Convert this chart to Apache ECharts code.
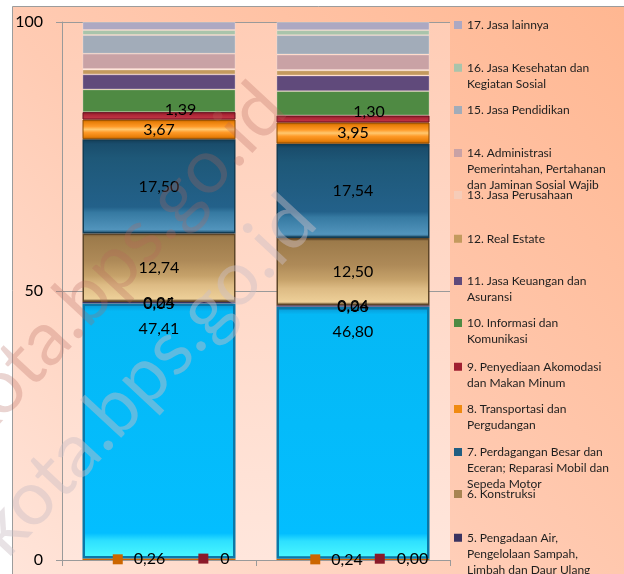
<!DOCTYPE html>
<html><head><meta charset="utf-8">
<script src="https://cdn.jsdelivr.net/npm/echarts@6/dist/echarts.min.js"></script>
<style>html,body{margin:0;padding:0;background:#fff}#c{width:624px;height:574px}</style>
</head><body><div id="c"></div>
<script>
// ---------- DATA ----------
const categories = ['2022', '2023'];
const seriesNames = [
  '1. Pertanian, Kehutanan, dan Perikanan',
  '2. Pertambangan dan Penggalian',
  '3. Industri Pengolahan',
  '4. Pengadaan Listrik dan Gas',
  '5. Pengadaan Air, Pengelolaan Sampah, Limbah dan Daur Ulang',
  '6. Konstruksi',
  '7. Perdagangan Besar dan Eceran; Reparasi Mobil dan Sepeda Motor',
  '8. Transportasi dan Pergudangan',
  '9. Penyediaan Akomodasi dan Makan Minum',
  '10. Informasi dan Komunikasi',
  '11. Jasa Keuangan dan Asuransi',
  '12. Real Estate',
  '13. Jasa Perusahaan',
  '14. Administrasi Pemerintahan, Pertahanan dan Jaminan Sosial Wajib',
  '15. Jasa Pendidikan',
  '16. Jasa Kesehatan dan Kegiatan Sosial',
  '17. Jasa lainnya'
];
const legendLabels = [
  '1. Pertanian, Kehutanan, dan\nPerikanan',
  '2. Pertambangan dan\nPenggalian',
  '3. Industri Pengolahan',
  '4. Pengadaan Listrik dan Gas',
  '5. Pengadaan Air,\nPengelolaan Sampah,\nLimbah dan Daur Ulang',
  '6. Konstruksi',
  '7. Perdagangan Besar dan\nEceran; Reparasi Mobil dan\nSepeda Motor',
  '8. Transportasi dan\nPergudangan',
  '9. Penyediaan Akomodasi\ndan Makan Minum',
  '10. Informasi dan\nKomunikasi',
  '11. Jasa Keuangan dan\nAsuransi',
  '12. Real Estate',
  '13. Jasa Perusahaan',
  '14. Administrasi\nPemerintahan, Pertahanan\ndan Jaminan Sosial Wajib',
  '15. Jasa Pendidikan',
  '16. Jasa Kesehatan dan\nKegiatan Sosial',
  '17. Jasa lainnya'
];
const v01 = [0.26, 0.24];
const v02 = [0, 0.00];
const v03 = [47.41, 46.80];
const v04 = [0.05, 0.06];
const v05 = [0.24, 0.24];
const v06 = [12.74, 12.50];
const v07 = [17.50, 17.54];
const v08 = [3.67, 3.95];
const v09 = [1.39, 1.30];
const v10 = [4.21, 4.52];
const v11 = [2.79, 2.91];
const v12 = [0.90, 0.95];
const v13 = [0.10, 0.10];
const v14 = [2.85, 2.85];
const v15 = [3.47, 3.59];
const v16 = [0.93, 0.93];
const v17 = [1.49, 1.52];
const v02Labels = ['0', '0,00'];
const yTicks = [0, 50, 100];
const seriesValues = [v01,v02,v03,v04,v05,v06,v07,v08,v09,v10,v11,v12,v13,v14,v15,v16,v17];

// ---------- STYLE ----------
const FONT = 'Lato, "Noto Sans", sans-serif';
const G = (stops) => new echarts.graphic.LinearGradient(0, 0, 0, 1, stops.map(s => ({offset: s[0], color: s[1]})));
const styles = [
  {color: '#CC6600'},
  {color: '#8B1A2A'},
  {color: G([[0,'#0A94D0'],[0.03,'#05B8F5'],[0.9,'#03BEFF'],[0.93,'#2EE0FF'],[0.99,'#48F6FF'],[1,'#0B6A92']]), borderColor: '#0A78A8', borderWidth: 2.5},
  {color: '#4F81BD'},
  {color: '#3A3360'},
  {color: G([[0,'#6E5230'],[0.05,'#9C7A4A'],[0.4,'#AE8A58'],[0.62,'#C6A26A'],[0.75,'#DDBB84'],[0.95,'#EDCF98'],[1,'#5E4628']]), borderColor: '#5E4628', borderWidth: 1.5},
  {color: G([[0,'#123C56'],[0.05,'#1A4D6C'],[0.2,'#1E5878'],[0.72,'#23618A'],[0.78,'#367AA2'],[0.96,'#5294BC'],[1,'#123C56']]), borderColor: '#123C54', borderWidth: 1.5},
  {color: G([[0,'#A85800'],[0.12,'#E87E08'],[0.35,'#FF9A28'],[0.5,'#FFC870'],[0.65,'#FF9A28'],[0.88,'#E87E08'],[1,'#A85800']]), borderColor: '#8A4A00', borderWidth: 1},
  {color: G([[0,'#7A1822'],[0.4,'#B02838'],[1,'#C83848']]), borderColor: '#6A1020', borderWidth: 1},
  {color: '#4F8A43'},
  {color: '#604A7B'},
  {color: '#C49A5E'},
  {color: '#F6CCB8'},
  {color: '#C9A2A5'},
  {color: '#A2ACB9'},
  {color: '#A9C4AB'},
  {color: '#ADA8C2'}
];
const legendColors = ['#CC6600','#8B1A2A','#00B8F0','#4F81BD','#3A3360','#A88452','#215E82','#F08A10','#A02030',
  '#4F8A43','#604A7B','#C49A5E','#F6CCB8','#C9A2A5','#A2ACB9','#A9C4AB','#ADA8C2'];
const fmt = v => v.toFixed(2).replace('.', ',');
const lblBase = {show: true, color: '#000', fontSize: 16, fontFamily: FONT};

function labelFor(i) {
  if (i === 0) {
    return Object.assign({}, lblBase, {position: 'inside',
      formatter: p => '{m|}{v|' + fmt(p.value) + '}',
      rich: {m: {width: 10, height: 10, backgroundColor: '#CC6600'}, v: {fontSize: 16, fontFamily: FONT, color: '#000', padding: [0,0,0,11]}}});
  }
  if (i === 1) {
    return Object.assign({}, lblBase, {position: 'inside',
      formatter: p => '{m|}{v|' + v02Labels[p.dataIndex] + '}',
      rich: {m: {width: 10, height: 10, backgroundColor: '#8B1A2A'}, v: {fontSize: 16, fontFamily: FONT, color: '#000', padding: [0,0,0,12]}}});
  }
  if (i === 2) return Object.assign({}, lblBase, {position: 'insideTop', distance: 17, formatter: p => fmt(p.value)});
  if (i >= 3 && i <= 8) return Object.assign({}, lblBase, {position: 'inside', formatter: p => fmt(p.value)});
  return {show: false};
}
const labelShifts = {
  0: [[-20, 0], [-16.5, 0]],
  1: [[55, 0], [48.5, 0]],
  8: [[21.5, -6], [16, -7]]
};

const series = seriesValues.map((vals, i) => {
  const s = {
    name: seriesNames[i],
    type: 'bar',
    stack: 'total',
    barWidth: 153,
    itemStyle: Object.assign({borderColor: 'rgba(255,255,255,0.35)', borderWidth: (i >= 9 ? 0.8 : 0)}, styles[i]),
    label: labelFor(i),
    emphasis: {disabled: true},
    data: vals
  };
  if (labelShifts[i]) {
    s.labelLayout = p => ({dx: labelShifts[i][p.dataIndex][0], dy: labelShifts[i][p.dataIndex][1]});
  }
  return s;
});

// legend: one block per visible entry (17 down to 5)
const legendCenters = [25, 67.7, 110, 153, 195, 238.7, 281, 323, 366.7, 409, 452, 494, 537.7];
const LH = 16;
const legends = legendCenters.map((c, k) => {
  const i = 16 - k;
  const n = legendLabels[i].split('\n').length;
  const H = 8 + (n - 1) * LH;
  return {
    orient: 'vertical', left: 454, top: c - 8, padding: 0, itemGap: 0,
    itemWidth: 8, itemHeight: H,
    icon: 'path://M0,0L8,0L8,8L0,8Z M0,' + H + 'L8,' + H,
    itemStyle: {color: legendColors[i], borderWidth: 0},
    selectedMode: false,
    data: [seriesNames[i]],
    formatter: () => legendLabels[i],
    textStyle: {fontSize: 12, lineHeight: LH, fontFamily: FONT, color: '#1E1E1E'}
  };
});

const chart = echarts.init(document.getElementById('c'), null, {renderer: 'canvas'});
chart.setOption({
  animation: false,
  backgroundColor: '#ffffff',
  textStyle: {fontFamily: FONT},
  graphic: [
    {type: 'rect', z: -10, silent: true, shape: {x: 12.5, y: 6.5, width: 640, height: 600},
     style: {fill: new echarts.graphic.LinearGradient(1, 0, 0, 1, [{offset: 0, color: '#FFB690'}, {offset: 0.55, color: '#FFCBB3'}, {offset: 1, color: '#FFE6DC'}]), stroke: '#9C9C9C', lineWidth: 1}},
    {type: 'text', z: 100, silent: true, x: 302, y: 208, rotation: 47 * Math.PI / 180,
     style: {text: 'kota.bps.go.id', fontSize: 76, fontFamily: FONT, fill: 'rgba(205,190,198,0.45)', align: 'right', verticalAlign: 'middle'}},
    {type: 'text', z: 100, silent: true, x: 272, y: 96, rotation: 47 * Math.PI / 180,
     style: {text: 'kota.bps.go.id', fontSize: 76, fontFamily: FONT, fill: 'rgba(180,100,90,0.28)', align: 'right', verticalAlign: 'middle'}}
  ],
  grid: {left: 62, right: 174, top: 22, bottom: 14, show: true, borderWidth: 0,
    backgroundColor: new echarts.graphic.LinearGradient(0, 0, 0, 1, [{offset: 0, color: '#FFCDB6'}, {offset: 1, color: '#FFE6DC'}])},
  legend: legends,
  xAxis: {type: 'category', data: categories,
    axisLine: {lineStyle: {color: '#9A9A9A'}},
    axisTick: {show: true, length: 6, lineStyle: {color: '#9A9A9A'}},
    axisLabel: {show: false}},
  yAxis: {type: 'value', min: yTicks[0], max: yTicks[2], interval: yTicks[1] - yTicks[0],
    axisLine: {show: true, lineStyle: {color: '#9A9A9A'}},
    axisTick: {show: true, length: 6, lineStyle: {color: '#9A9A9A'}},
    axisLabel: {fontSize: 16, color: '#000', fontFamily: FONT, margin: 19},
    splitLine: {lineStyle: {color: '#9A9A9A'}}},
  series: series
});
</script></body></html>
